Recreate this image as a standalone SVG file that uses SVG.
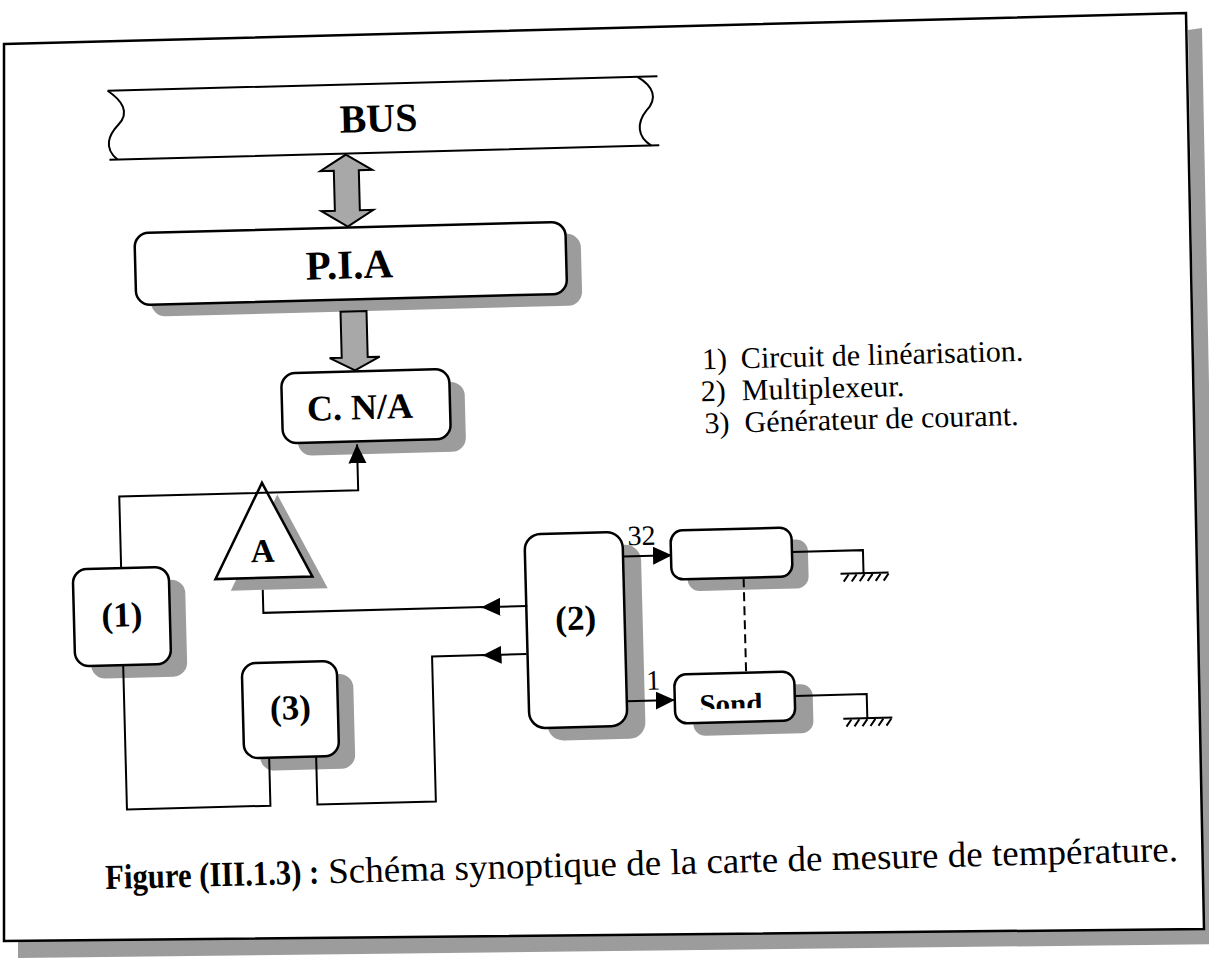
<svg xmlns="http://www.w3.org/2000/svg" width="1209" height="961" viewBox="0 0 1209 961">
<defs>
<style>
.box{fill:#fff;stroke:#000;stroke-width:2.5}
.sh{fill:#9c9c9c}
.ln{fill:none;stroke:#000;stroke-width:2}
.lbl{font-family:"Liberation Serif",serif;font-weight:bold;text-anchor:middle;fill:#000}
.reg{font-family:"Liberation Serif",serif;fill:#000}
.garrow{fill:#a8a8a8;stroke:#000;stroke-width:2;stroke-linejoin:miter}
</style>
<marker id="ah" markerUnits="userSpaceOnUse" markerWidth="20" markerHeight="20" refX="19" refY="9" orient="auto">
<path d="M0,0 L19,9 L0,18 Z" fill="#000"/>
</marker>
<clipPath id="sondclip"><rect x="660" y="670" width="140" height="42"/></clipPath>
</defs>
<rect width="1209" height="961" fill="#fff"/>
<g id="frame">
<path class="sh" d="M1188,30 L1202,28 L1220,944 L18,958 L18,941 L1204,929 Z"/>
<path d="M4,44 L1186,13 L1204,929 L4,941 Z" fill="none" stroke="#000" stroke-width="2.5"/>
</g>
<g transform="rotate(-1.5 600 480)">
<g id="bus">
<path class="ln" stroke-width="2.5" d="M118,78 H668 M118,147 H668"/>
<path class="ln" d="M118,78 C132,88 140,100 128,112 C118,122 112,135 126,147"/>
<path class="ln" d="M648,78 C664,88 668,100 656,112 C646,124 646,138 660,147"/>
<text class="lbl" x="388" y="126" font-size="40">BUS</text>
</g>
<g id="pia">
<rect class="sh" x="156" y="233" width="431" height="72" rx="14"/>
<rect class="box" x="141" y="221" width="431" height="72" rx="14"/>
<text class="lbl" x="355" y="272" font-size="41">P.I.A</text>
</g>
<g id="cna">
<rect class="sh" x="299" y="378" width="168" height="70" rx="14"/>
<rect class="box" x="284" y="365" width="168" height="70" rx="14"/>
<text class="lbl" x="362" y="413" font-size="36">C. N/A</text>
</g>
<g id="amp">
<polygon class="sh" points="277,486 228,581 325,581"/>
<polygon class="box" points="262,474 213,569 310,569"/>
<text class="lbl" x="261" y="553" font-size="33">A</text>
</g>
<g id="n1">
<rect class="sh" x="86.5" y="568.5" width="96" height="97" rx="14"/>
<rect class="box" x="70.5" y="555.5" width="96" height="97" rx="14"/>
<text class="lbl" x="118.5" y="614" font-size="35">(1)</text>
</g>
<g id="n3">
<rect class="sh" x="253" y="667" width="95" height="95" rx="14"/>
<rect class="box" x="237" y="654" width="95" height="95" rx="14"/>
<text class="lbl" x="284.5" y="711" font-size="35">(3)</text>
</g>
<g id="n2">
<rect class="sh" x="541" y="545.4" width="98" height="194" rx="16"/>
<rect class="box" x="523" y="532.4" width="98" height="194" rx="16"/>
<text class="lbl" x="572" y="629" font-size="35">(2)</text>
</g>
<g id="probe32">
<rect class="sh" x="685" y="544.5" width="121" height="49" rx="12"/>
<rect class="box" x="669" y="532.5" width="121" height="49" rx="12"/>
</g>
<g id="sond">
<rect class="sh" x="687" y="689.5" width="120" height="49" rx="12"/>
<rect class="box" x="669" y="676.5" width="120" height="49" rx="12"/>
<text class="lbl" x="725" y="717" font-size="29" clip-path="url(#sondclip)">Sond</text>
</g>
<g id="connectors">
<polygon class="garrow" points="354.5,148 380.5,164 367,164 367,204 380.5,204 354.5,220 328.5,204 342,204 342,164 328.5,164"/>
<polygon class="garrow" points="345,305 371,305 371,351 383,351 358,364 333,351 345,351"/>
<path class="ln" d="M119,555.5 V484 H358 V438" marker-end="url(#ah)"/>
<path class="ln" d="M524,604 H478" marker-end="url(#ah)"/>
<path class="ln" d="M480,604 H260 V581"/>
<path class="ln" d="M522,652 H478" marker-end="url(#ah)"/>
<path class="ln" d="M480,652 H427.5 V797 H309 V749"/>
<path class="ln" d="M118.5,652.5 V797 H262 V749"/>
<path class="ln" d="M621,557 H670" marker-end="url(#ah)"/>
<path class="ln" d="M621,702 H669" marker-end="url(#ah)"/>
<path class="ln" d="M790,557 H861 V580 M838,580 H886"/>
<path class="ln" stroke-width="1.5" d="M846,581 l-5,7 M854,581 l-5,7 M862,581 l-5,7 M870,581 l-5,7 M878,581 l-5,7 M886,581 l-5,7"/>
<path class="ln" d="M789,701 H861 V725 M837,725 H886"/>
<path class="ln" stroke-width="1.5" d="M845,726 l-5,7 M853,726 l-5,7 M861,726 l-5,7 M869,726 l-5,7 M877,726 l-5,7 M885,726 l-5,7"/>
<path class="ln" stroke-dasharray="9,5" d="M741,582 V676"/>
<text class="reg" x="640" y="546" font-size="28" text-anchor="middle">32</text>
<text class="reg" x="648" y="691" font-size="28" text-anchor="middle">1</text>
</g>
<g id="legend" class="reg" font-size="30">
<text x="705" y="372">1)</text><text x="744" y="372">Circuit de linéarisation.</text>
<text x="703" y="404">2)</text><text x="744" y="404">Multiplexeur.</text>
<text x="706" y="436">3)</text><text x="746" y="436">Générateur de courant.</text>
</g>
<g id="caption">
<text class="reg" x="95" y="876" font-size="35" font-weight="bold" textLength="214" lengthAdjust="spacingAndGlyphs">Figure (III.1.3) :</text>
<text class="reg" x="318" y="876" font-size="36" textLength="850" lengthAdjust="spacingAndGlyphs">Schéma synoptique de la carte de mesure de température.</text>
</g>
</g>
</svg>
